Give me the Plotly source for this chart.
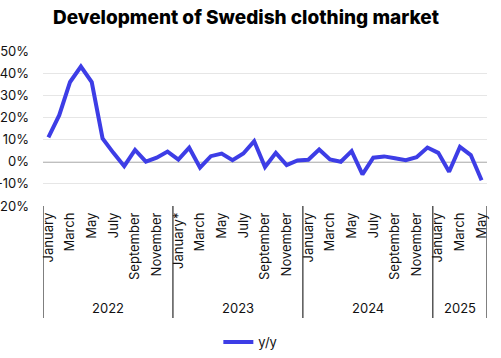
import plotly.graph_objects as go

years = ["2022", "2023", "2024", "2025"]
months_per_year = [12, 12, 12, 5]
month_names = ["January", "February", "March", "April", "May", "June", "July",
               "August", "September", "October", "November", "December"]

yy_2022 = [11, 21, 36, 43, 36, 10.5, 4, -2, 5.3, 0, 1.8, 4.6]
yy_2023 = [1, 6.3, -2.7, 2.5, 3.7, 0.7, 3.7, 9.3, -2.4, 4, -1.5, 0.6]
yy_2024 = [0.9, 5.5, 1, 0, 4.8, -5.7, 1.8, 2.4, 1.6, 0.7, 2, 6.4]
yy_2025 = [4, -4.5, 6.7, 3, -8.4]

values = yy_2022 + yy_2023 + yy_2024 + yy_2025
x_idx = list(range(len(values)))

y_tickvals = [-20, -10, 0, 10, 20, 30, 40, 50]
y_ticktext = ["-20%", "-10%", "0%", "10%", "20%", "30%", "40%", "50%"]

# month tick labels every other month
tick_vals, tick_text = [], []
i = 0
for y, n in zip(years, months_per_year):
    for m in range(n):
        if m % 2 == 0:
            tick_vals.append(i)
            label = month_names[m]
            if y == "2023" and m == 0:
                label = "January*"
            tick_text.append(label)
        i += 1

LINE = "#3d3de6"
FONT = "Inter"

fig = go.Figure()
fig.add_trace(go.Scatter(x=x_idx, y=values, mode="lines", name="y/y",
                         line=dict(color=LINE, width=4)))

shapes = []
annotations = []
start = 0
bottom = -(318 - 206) / 155
for y, n in zip(years, months_per_year):
    shapes.append(dict(type="line", xref="x", yref="paper", x0=start - 0.5, x1=start - 0.5,
                       y0=0, y1=bottom, line=dict(color="black", width=1)))
    annotations.append(dict(text=y, xref="x", yref="paper", x=start + (n - 1) / 2,
                            y=-(308 - 206) / 155, showarrow=False, yanchor="middle",
                            font=dict(size=13, color="#111", family=FONT)))
    start += n
shapes.append(dict(type="line", xref="x", yref="paper", x0=start - 0.5, x1=start - 0.5,
                   y0=0, y1=bottom, line=dict(color="black", width=1)))
# zero line
shapes.append(dict(type="line", xref="paper", yref="y", x0=0, x1=1, y0=0, y1=0,
                   line=dict(color="black", width=1.2), layer="below"))

fig.update_layout(
    width=501, height=358,
    margin=dict(l=43, r=14, t=51, b=152, autoexpand=False),
    paper_bgcolor="white", plot_bgcolor="white",
    title=dict(text="Development of Swedish clothing market", x=246 / 501, xanchor="center",
               xref="container", y=1 - 17 / 358, yanchor="middle",
               font=dict(family=FONT, size=19, color="black", weight=800)),
    font=dict(family=FONT, color="#111"),
    xaxis=dict(range=[-0.5, len(values) - 0.5], tickmode="array", tickvals=tick_vals,
               ticktext=tick_text, tickangle=-90, showgrid=False, zeroline=False,
               showline=False, ticks="", ticklabelstandoff=3,
               tickfont=dict(size=13, family=FONT, color="#111"),
               automargin=False),
    yaxis=dict(range=[-20, 50], tickmode="array", tickvals=y_tickvals, ticktext=y_ticktext,
               showgrid=True, gridcolor="#e6e6e6", gridwidth=1, zeroline=False,
               showline=False, ticks="", ticklabelstandoff=13, automargin=False,
               tickfont=dict(size=13, family=FONT, color="#111")),
    showlegend=True,
    legend=dict(orientation="h", x=0.467, xanchor="center", y=-(342 - 206) / 155,
                yanchor="middle", font=dict(size=13, family=FONT, color="#111")),
    shapes=shapes, annotations=annotations,
)

fig.write_html("out.html", config={"displayModeBar": False, "staticPlot": False},
               post_script="document.body.style.margin='0';document.body.style.overflow='hidden';")
